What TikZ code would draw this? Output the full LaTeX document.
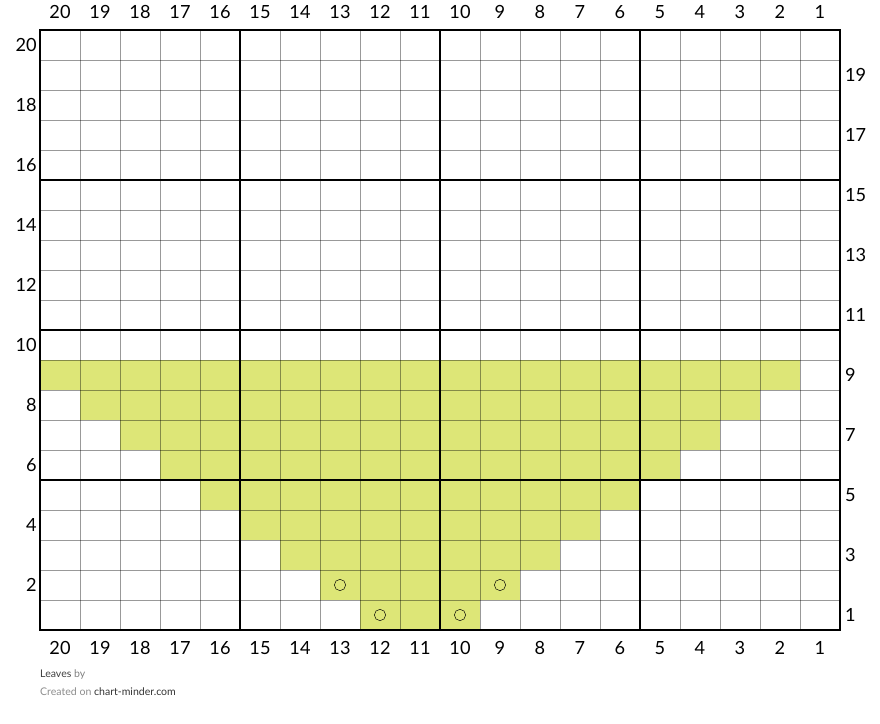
\documentclass[tikz,border=0pt]{standalone}
\usepackage{fontspec}
\setmainfont{Lato}
\usetikzlibrary{positioning}
\definecolor{leafgreen}{RGB}{221,230,119}
\begin{document}
\begin{tikzpicture}[x=1.2cm,y=0.9cm,
    thin line/.style={black,opacity=.4,line width=0.6pt},
    lbl/.style={font=\fontsize{15.5}{18}\selectfont,inner sep=0pt},
    foot/.style={font=\fontsize{9}{11}\selectfont,anchor=west,inner sep=0pt}]
    \useasboundingbox (-1,-3.1) rectangle (21,21);

    % stitches of the leaf
    \foreach \r in {1,...,9}
      \fill[leafgreen] (9-\r,\r-1) rectangle (10+\r,\r);

    % chart grid
    \foreach \k in {1,...,19} {
      \draw[thin line] (\k,0) -- (\k,20);
      \draw[thin line] (0,\k) -- (20,\k);
    }
    \foreach \k in {5,10,15} {
      \draw[line width=1.4pt] (\k,0) -- (\k,20);
      \draw[line width=1.4pt] (0,\k) -- (20,\k);
    }
    \draw[line width=1.6pt] (0,0) rectangle (20,20);

    % yarn-over marks
    \draw (7.5,1.5) circle[radius=.17cm];
    \draw (11.5,1.5) circle[radius=.17cm];
    \draw (8.5,.5) circle[radius=.17cm];
    \draw (10.5,.5) circle[radius=.17cm];

    % column and row numbers
    \foreach \c in {1,...,20} {
      \node[lbl] (top\c) at (20.5-\c,20.6) {\c};
      \node[lbl] (bot\c) at (20.5-\c,-.6) {\c};
    }
    \foreach \r in {2,4,...,20}
      \node[lbl,anchor=east] (left\r) at (-.08,\r-.5) {\r};
    \foreach \r in {1,3,...,19}
      \node[lbl,anchor=west] (right\r) at (20.12,\r-.5) {\r};

    % footer
    \node[foot,text=black!75] (title) at (0,-1.5) {Leaves \textcolor{black!50}{by}};
    \node[foot,text=black!45] (made) at (0,-2.07) {Created on \textcolor{black!80}{chart-minder.com}};
  \end{tikzpicture}
\end{document}
